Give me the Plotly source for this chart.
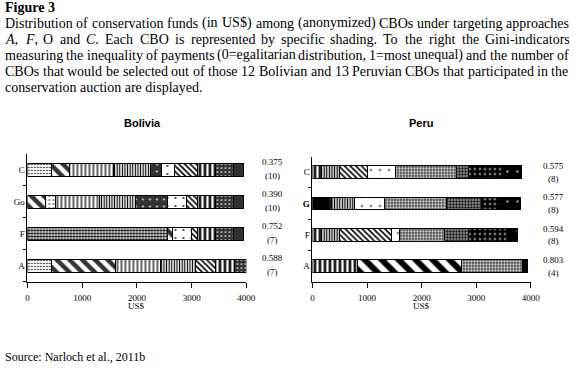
import plotly.graph_objects as go

# ---------------- data ----------------
bol_categories = ["C", "Go", "F", "A"]
peru_categories = ["C", "G", "F", "A"]
peru_ticktext = ["C", "<b>G</b>", "F", "A"]

# Bolivia: CBO shading id + US$ per segment (left to right)
bol_C_cbo = ["a", "b", "c", "d", "e", "f", "g", "h", "i", "j"]
bol_C_usd = [447, 328, 800, 675, 197, 238, 430, 317, 340, 179]
bol_Go_cbo = ["b", "l", "c", "d", "e", "f", "g", "h", "i", "j"]
bol_Go_usd = [328, 192, 805, 657, 583, 340, 209, 317, 340, 179]
bol_F_cbo = ["k", "b", "f", "g", "h", "i", "j"]
bol_F_usd = [2565, 84, 345, 120, 317, 340, 179]
bol_A_cbo = ["a", "b", "c", "d", "g", "h", "i"]
bol_A_usd = [447, 1163, 818, 637, 376, 340, 215]

# Peru
peru_C_cbo = ["vb", "fv", "fd", "wd", "ck", "dd", "dk", "bs"]
peru_C_usd = [161, 341, 497, 520, 1123, 222, 657, 300]
peru_G_cbo = ["bk", "vb", "fv", "wd", "ck", "dd", "dk", "bs"]
peru_G_usd = [287, 54, 431, 556, 1118, 658, 328, 377]
peru_F_cbo = ["vb", "fv", "fd", "wd", "ck", "dd", "dk", "bs"]
peru_F_usd = [161, 341, 938, 156, 831, 438, 718, 167]
peru_A_cbo = ["vb", "wg", "ck", "bk"]
peru_A_usd = [831, 1902, 1107, 102]

bol_gini = [0.375, 0.390, 0.752, 0.588]
bol_n = [10, 10, 7, 7]
peru_gini = [0.575, 0.577, 0.594, 0.803]
peru_n = [8, 8, 8, 4]

x_ticks = [0, 1000, 2000, 3000, 4000]

caption_title = "Figure 3"
caption_lines = [
    "Distribution of conservation funds (in US$) among (anonymized) CBOs under targeting approaches",
    "A, F, O and C. Each CBO is represented by specific shading. To the right the Gini-indicators",
    "measuring the inequality of payments (0=egalitarian distribution, 1=most unequal) and the number of",
    "CBOs that would be selected out of those 12 Bolivian and 13 Peruvian CBOs that participated in the",
    "conservation auction are displayed.",
]
italic_words = {"A,": "<i>A</i>,", "F,": "<i>F</i>,", "C.": "<i>C</i>."}
source_text = "Source: Narloch et al., 2011b"

# ---------------- styles ----------------
SERIF = "Liberation Serif, Times New Roman, serif"
SANS = "Liberation Sans, Arial, sans-serif"
W, H = 582, 370


def pat(shape, size, solidity, fg="black", bg="white"):
    return dict(shape=shape, size=size, solidity=solidity, fgcolor=fg, bgcolor=bg, fillmode="replace")


STYLES = {
    # Bolivia
    "a": pat(".", 3, 0.22),
    "k": pat(".", 3, 0.5),
    "b": pat("\\", 9, 0.5, fg="#333333"),
    "l": pat(".", 4, 0.12),
    "c": pat("|", 4, 0.3),
    "d": pat("|", 2.6, 0.45),
    "e": pat(".", 7, 0.05, fg="white", bg="#333333"),
    "f": pat(".", 8, 0.04),
    "g": pat("\\", 4, 0.4),
    "h": pat("|", 5, 0.5),
    "i": pat(".", 4, 0.15, fg="white", bg="#333333"),
    "j": "#333333",
    # Peru
    "vb": pat("|", 5, 0.5),
    "fv": pat("|", 2.6, 0.5),
    "fd": pat("\\", 4, 0.4),
    "wd": pat(".", 9, 0.03),
    "ck": pat(".", 3, 0.45),
    "dd": pat(".", 3, 0.35, fg="white", bg="black"),
    "dk": pat(".", 5, 0.1, fg="white", bg="black"),
    "bs": pat(".", 10, 0.03, fg="white", bg="black"),
    "wg": pat("\\", 12, 0.5),
    "bk": "black",
}


def marker_for(cbo):
    st = STYLES[cbo]
    line = dict(color="black", width=1)
    if isinstance(st, str):
        return dict(color=st, line=line)
    return dict(color=st["bgcolor"], pattern=st, line=line)


fig = go.Figure()

bol_bars = [("C", bol_C_cbo, bol_C_usd), ("Go", bol_Go_cbo, bol_Go_usd),
            ("F", bol_F_cbo, bol_F_usd), ("A", bol_A_cbo, bol_A_usd)]
peru_bars = [("C", peru_C_cbo, peru_C_usd), ("G", peru_G_cbo, peru_G_usd),
             ("F", peru_F_cbo, peru_F_usd), ("A", peru_A_cbo, peru_A_usd)]

for cat, cbos, vals in bol_bars:
    for cbo, v in zip(cbos, vals):
        fig.add_trace(go.Bar(y=[cat], x=[v], orientation="h", marker=marker_for(cbo),
                             xaxis="x", yaxis="y", showlegend=False, hoverinfo="skip"))
for cat, cbos, vals in peru_bars:
    for cbo, v in zip(cbos, vals):
        fig.add_trace(go.Bar(y=[cat], x=[v], orientation="h", marker=marker_for(cbo),
                             xaxis="x2", yaxis="y2", showlegend=False, hoverinfo="skip"))


def px_x(x):
    return x / W


def px_y(y):
    return 1 - y / H


def xaxis_cfg(l, r, anchor):
    return dict(domain=[px_x(l), px_x(r)], anchor=anchor, range=[0, 4000],
                tickmode="array", tickvals=x_ticks, ticktext=[str(v) for v in x_ticks],
                showline=True, linecolor="black", linewidth=1, ticks="outside", ticklen=5,
                tickcolor="black", tickwidth=1, showgrid=False, zeroline=False,
                tickfont=dict(family=SERIF, size=9, color="black"), ticklabelstandoff=2)


def yaxis_cfg(top, bottom, anchor, cats, labels):
    return dict(domain=[px_y(bottom), px_y(top)], anchor=anchor, type="category",
                categoryorder="array", categoryarray=list(reversed(cats)),
                tickmode="array", tickvals=cats, ticktext=labels, tickson="boundaries",
                showline=True, linecolor="black", linewidth=1, ticks="outside", ticklen=3,
                tickcolor="black", showgrid=False, zeroline=False,
                tickfont=dict(family=SERIF, size=9, color="black"))


fig.update_layout(
    width=W, height=H, margin=dict(l=0, r=0, t=0, b=0),
    paper_bgcolor="white", plot_bgcolor="white",
    barmode="stack", bargap=0.59, showlegend=False,
    xaxis=xaxis_cfg(26, 249.5, "y"),
    yaxis=yaxis_cfg(154, 281.7, "x", bol_categories, bol_categories),
    xaxis2=xaxis_cfg(317, 540, "y2"),
    yaxis2=yaxis_cfg(156.5, 281.7, "x2", peru_categories, peru_ticktext),
)


def ann(text, x, y, size, family=SERIF, xanchor="left", bold=False, **kw):
    if bold:
        text = "<b>" + text + "</b>"
    fig.add_annotation(text=text, x=px_x(x), y=px_y(y), xref="paper", yref="paper",
                       xanchor=xanchor, yanchor="middle", showarrow=False,
                       borderpad=0, borderwidth=0,
                       font=dict(family=family, size=size, color="black"), **kw)


# Gini + n annotations
for cat, g, n in zip(bol_categories, bol_gini, bol_n):
    for txt, sh in ((f"{g:.3f}", 7.5), (f"({n})", -6.5)):
        fig.add_annotation(text=txt, x=px_x(276), y=cat, xref="paper", yref="y",
                           xanchor="center", yanchor="middle", yshift=sh, showarrow=False,
                           font=dict(family=SERIF, size=9, color="black"))
for cat, g, n in zip(peru_categories, peru_gini, peru_n):
    for txt, sh in ((f"{g:.3f}", 6), (f"({n})", -6.5)):
        fig.add_annotation(text=txt, x=px_x(563), y=cat, xref="paper", yref="y2",
                           xanchor="center", yanchor="middle", yshift=sh, showarrow=False,
                           font=dict(family=SERIF, size=9, color="black"))

# axis titles
for xr in ("x", "x2"):
    fig.add_annotation(text="US$", x=2000, y=px_y(305.5), xref=xr, yref="paper",
                       xanchor="center", yanchor="middle", showarrow=False,
                       borderpad=0, borderwidth=0,
                       font=dict(family=SERIF, size=9, color="black"))

# panel titles
ann("Bolivia", 143, 123, 11, family=SANS, xanchor="center", bold=True)
ann("Peru", 428, 123, 11, family=SANS, xanchor="center", bold=True)

# caption with justified lines
TIMES = {' ': 250, '(': 333, ')': 333, '$': 500, ',': 250, '-': 333, '.': 250, '=': 564, ':': 278}
for d in "0123456789":
    TIMES[d] = 500
TIMES.update(dict(zip("ABCDEFGHIJKLMNOPQRSTUVWXYZ",
                      [722, 667, 667, 722, 611, 556, 722, 722, 333, 389, 722, 611, 889, 722, 722,
                       556, 722, 667, 556, 611, 722, 722, 944, 722, 722, 611])))
TIMES.update(dict(zip("abcdefghijklmnopqrstuvwxyz",
                      [444, 500, 444, 500, 444, 333, 500, 500, 278, 278, 500, 278, 778, 500, 500,
                       500, 500, 333, 389, 278, 500, 500, 722, 500, 500, 444])))


def tw(s, size):
    return sum(TIMES.get(ch, 500) for ch in s) * size / 1000.0


CAP_SIZE = 14
LEFT, RIGHT = 3, 578
ann(caption_title, LEFT, 7, 14, bold=True)
line_y = [23, 39, 55, 71, 87]
for li, (line, y) in enumerate(zip(caption_lines, line_y)):
    words = line.split(" ")
    if li == len(caption_lines) - 1:
        ann(line, LEFT, y, CAP_SIZE)
        continue
    widths = [tw(w, CAP_SIZE) for w in words]
    gap = (RIGHT - LEFT - sum(widths)) / (len(words) - 1)
    x = LEFT
    for w, wd in zip(words, widths):
        ann(italic_words.get(w, w) if li == 1 else w, x, y, CAP_SIZE)
        x += wd + gap

ann(source_text, LEFT, 357, 12)

fig.write_html("out.html", config={"displayModeBar": False},
               post_script="document.body.style.margin='0';")
